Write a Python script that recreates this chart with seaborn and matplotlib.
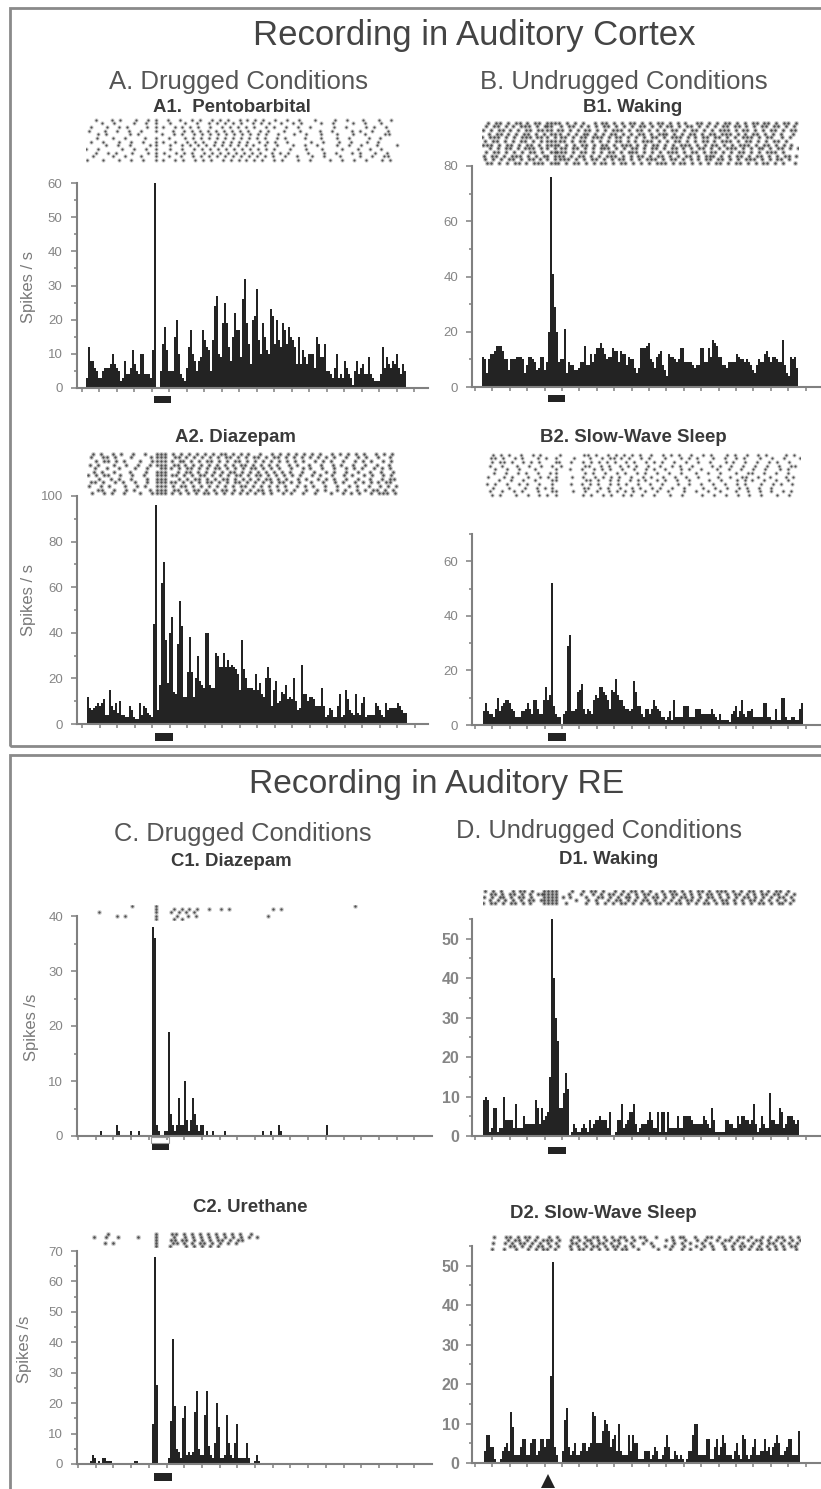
# Auditory cortex / RE recordings: rasters above peristimulus histograms
import numpy as np
import pandas as pd
import matplotlib
matplotlib.use("Agg")
import matplotlib.pyplot as plt
from matplotlib.patches import Rectangle, Polygon
import seaborn as sns

# histogram values, spikes/s per bin
a1_rates = [3,12,8,8,6,5,3,3,5,6, 6,6,7,10,7,6,5,2,3,8, 4,4,6,11,7,5,4,10,10,4,
            4,4,3,11,60,0,0,5,13,18, 11,5,5,5,15,20,10,4,3,2, 6,12,17,10,8,5,8,9,17,14,
            12,11,5,14,24,27,10,9,19,25, 19,12,8,15,22,17,17,9,26,32, 19,13,7,20,21,29,14,10,19,15,
            11,10,23,21,13,20,14,12,19,17, 13,18,15,14,12,7,15,7,11,9, 7,10,10,10,6,15,13,9,9,13,
            5,5,4,3,6,10,3,4,3,8, 6,4,3,1,5,8,4,6,7,4, 4,9,4,3,2,2,2,4,12,6, 9,7,6,8,7,10,6,4,7,5]
a2_rates = [12,7,6,7,8,9,8,9,11,4, 4,15,8,6,9,5,10,4,4,3, 3,8,6,3,2,2,9,4,8,7,
            5,4,3,44,96,6,17,62,71,37, 18,40,47,14,13,35,54,43,12,12, 23,38,23,12,20,30,19,17,16,40,
            40,17,16,16,31,30,25,25,31,25, 28,25,26,25,24,22,15,37,24,20, 16,16,16,15,22,15,18,13,12,20,
            25,20,8,15,19,9,10,14,13,17, 11,12,11,20,10,6,7,26,13,13, 10,12,12,11,8,8,8,16,8,3,
            4,7,6,3,3,8,13,3,4,15, 11,6,5,4,13,5,4,9,12,3, 4,4,4,4,9,8,6,4,3,9, 6,7,7,7,7,9,8,6,5,5]
b1_rates = [11,10,5,10,12,12,13,15,15,15, 13,10,10,6,10,10,10,11,11,11, 10,5,8,11,11,10,9,6,7,11,
            11,6,9,20,76,41,29,20,9,10, 10,21,5,9,8,8,6,6,7,9, 9,15,8,8,12,9,12,14,14,16,
            14,12,10,11,11,14,13,13,9,13, 12,12,8,11,10,10,7,5,7,14, 14,14,15,16,10,9,7,11,12,13,
            8,6,4,12,11,11,10,9,10,14, 14,9,9,9,9,8,7,8,8,14, 14,9,9,14,11,17,16,15,11,11,
            8,8,7,9,9,9,9,12,11,10, 10,9,10,9,8,6,5,8,10,9, 9,12,13,11,9,11,11,10,9,9, 17,8,5,4,11,10,11,7]
b2_rates = [5,8,5,4,4,3,6,10,5,7, 8,9,9,8,6,5,3,3,3,5, 5,6,8,6,4,9,9,6,4,4,
            9,14,9,11,52,7,4,3,3,0, 4,5,29,33,5,5,6,12,13,15, 6,4,6,5,4,9,11,10,14,14,
            12,11,9,6,13,12,17,11,9,9, 7,6,6,5,6,16,12,7,7,4, 3,6,6,4,6,9,7,6,5,3,
            3,2,3,5,2,9,3,3,3,3, 7,7,7,3,3,3,6,6,6,4, 4,4,4,4,6,4,3,2,4,2,
            2,2,2,1,4,5,7,3,5,9, 4,3,5,5,6,3,3,3,3,3, 8,8,3,3,2,2,6,2,2,10, 10,3,2,2,3,3,2,2,6,8]
c1_rates = [0,0,0,0,0,0,0,0,0,0, 0,1,0,0,0,0,0,0,0,2, 1,0,0,0,0,0,1,0,0,0,
            1,0,0,0,0,0,0,38,36,2, 1,0,0,1,1,19,4,2,1,2, 7,2,2,10,3,1,3,7,4,2,
            1,2,2,0,1,0,0,1,0,0, 0,0,0,1,0,0,0,0,0,0, 0,0,0,0,0,0,0,0,0,0,
            0,0,1,0,0,0,1,0,0,0, 2,1,0,0,0,0,0,0,0,0, 0,0,0,0,0,0,0,0,0,0,
            0,0,0,0,2,0,0,0,0,0, 0,0,0,0,0,0,0,0,0,0, 0,0,0,0,0,0,0,0,0,0, 0,0,0,0,0,0,0,0,0,0]
c2_rates = [0,0,0,0,0,0,1,3,2,0, 1,0,2,2,1,1,1,0,0,0, 0,0,0,0,0,0,0,0,1,1,
            0,0,0,0,0,0,0,13,68,26, 0,0,0,0,0,2,14,41,19,5, 4,2,15,19,3,4,3,4,17,24,
            5,3,3,16,24,6,3,2,7,20, 12,2,2,3,16,7,3,2,7,13, 2,2,2,2,7,2,0,0,1,3,
            1,0,0,0,0,0,0,0,0,0, 0,0,0,0,0,0,0,0,0,0, 0,0,0,0,0,0,0,0,0,0,
            0,0,0,0,0,0,0,0,0,0, 0,0,0,0,0,0,0,0,0,0, 0,0,0,0,0,0,0,0,0,0, 0,0,0,0,0,0,0,0,0,0]
d1_rates = [9,10,9,1,2,7,7,1,2,2, 10,4,4,4,4,2,8,2,2,2, 5,3,3,3,3,3,9,7,3,7,
            4,5,6,15,55,40,30,24,7,7, 11,16,12,0,1,3,2,1,1,2, 3,2,1,4,2,3,4,4,5,4,
            4,4,2,6,0,0,1,4,4,8, 2,3,4,6,6,8,3,1,2,3, 3,3,4,6,4,2,2,6,1,6,
            6,1,6,2,2,2,2,5,2,2, 5,5,5,5,4,3,3,3,3,3, 5,4,3,2,7,4,1,1,1,1,
            1,4,4,3,3,2,2,5,3,5, 5,4,4,3,4,8,3,1,2,5, 3,2,2,11,4,4,3,3,7,6, 2,3,5,5,5,4,3,4]
d2_rates = [3,7,7,4,4,1,0,0,1,3, 4,5,3,13,9,2,2,2,4,6, 6,2,2,5,6,6,2,3,6,6,
            4,6,6,22,51,4,2,0,0,3, 11,14,4,2,3,5,2,2,3,5, 5,3,4,5,13,12,5,5,5,8,
            11,10,8,4,6,7,3,10,3,2, 2,2,7,3,7,5,5,1,1,1, 3,3,3,1,2,4,3,1,1,2,
            4,7,4,1,1,3,2,1,2,1, 0,1,3,3,7,10,10,2,2,2, 2,6,6,1,1,4,6,2,4,7,
            5,2,2,2,1,3,5,2,1,7, 6,2,1,2,4,6,2,2,3,3, 6,3,4,2,4,5,7,5,2,2, 3,4,6,6,2,2,2,8]

# raster rows, one string per trial, * = spike
a1_raster = [
    "  *   * *   *  * " "*" "  *  *  * *  * * *  * * * *  *  *  *   *    *  *   *   *  *",
    "   *  *    *  *  " "*" "  *   *  *  * * * * *  * * *  *  * *    *  *    *  *   *   ",
    " *   *  * *    * " "*" " *  * * * *  *  * * * * *  * *  *  *  *     *  *    * *  *",
    "*   *  *  *  *   " "*" "   *  * * * * * * * * *  * *   *   *    *  *    * *  *   * ",
    "   * *     * *   " " " " *  * *  * * * * * * * * * *  *   *  *   *   *   *  *    **",
    "  *   *  *    *  " "*" "  *   * * * * * * * * * * *  * *    *   *   *  *    *  *   ",
    " *  *   *  *  *  " "*" " *  *  * * *  * * * * *  * * *  *     *  *   *  *   *  * ",
    "    *  *  *    * " "*" "  *  * * * * * * * * * *  *  *   *  *  *    *  *  *   *    *",
    "*  *     *  *  * " "*" "   *  *  * * * * * * * * * * *   *   *   *    *   *  *  * ",
    "  *  * *   *   * " "*" " *  * * *  * * * * * * * *  * * *    *   *  *   * *   *  * ",
    " *    *  *   *   " "*" "  *  *  * * * * * * * * * * *  *  *   *  *   *    *  *  **",
    "*   *   *  *  *  " "*" " *  * *  * * *  * * * * * *  * *   *  *    *  *  *  *   * * ",
]
a2_raster = [
    " * *  * *  *  *  *** * * * * * * ** * * *  *  * * * * * * *  * * * * *  * * *   ",
    "*  ** *   *    * *** ** * * * * * ** * * ** * ** * * * * * * *  *  * *  *  *    ",
    "  * ** * *   *  **** * ** * * ** * * ** * * * * * * * *  * * *  *  * * *  * *   ",
    "* *   *  *  *  * *** ** * * * * * * * ** * * * *  * *  *  *  * *  *  *  *  *    ",
    "  *  *  *   *  *  ** * * ** * * ** * * * ** * * *  *  * *  *  *  * * *  * * *   ",
    " * *  *   *   *  ***  * ** * * * * ** * * * * * * *  *  *  * *  *  *  *  *  *   ",
    "* * **  *  *  *  *** ** * * ** * * * ** * ** * * * * *  * *  *  * *  * *  * *   ",
    "  *  * *  *   *  ***  * * ** * * ** * * * * ** * *  * *  * * *  *  *  *  * **   ",
    " ** *  * *  *  * *** ** * * * ** * * ** * * * * ** * *  *  *  * *  * * * * **   ",
    "*  * *   *  * *  *** * ** * * * * * * ** * * * * *  * * *  *  *  * *  *  * * *  ",
    "  **  *  * *   * *** ** * ** * * ** * * * ** * * * *  *  * *  * *  * * ** * *   ",
    " *  * *  *   *  **** * * * * ** * * * * * * * *  * *  *  *   *  * * *  * *** *  ",
]
b1_raster = [
    " * ** * ** * ** **** * * *  * ** * * ** * * ** * * *  ** * * ** * * ** ** * ** *",
    "* ** * * *** * *** * ** * * * ** * * * ** * * ** * ** * * * ** ** * * ** ** * * ",
    "* * ** * * ** **** ** * * ** * * *** * ** * * * ** * ** * * *** * ** * * ** * **",
    " * ** * * ** * * *** * * ** * * ** * * ** * *** * * ** * ** *** * * ** * * *  * ",
    "* *** * * *** *** * ** * ** *** * ** * * * ** * *** * * ** ** * * *** * **  * * ",
    "* ** * * ** * * ***** * ** * * * ** * * *** * * ** * * ** * *** * ** * * ** *   ",
    "*** * ** * ** * **** * * ** * ** * *** * * ** * * *** * * ** * * *** * ** * * * ",
    " * * ** * *** * * *** ** * * *** * * ** * ** * ** * * ** * * *** * * ** * ** * *",
    " * ** * * * ** * ***** * ** * * ** * *** * * * *** * ** * ** * * ** * * *** *   ",
    "* ** * *** * * ** *** * ** * * *** * * ** * ** * * ** * *** * * ** * ** * * ** *",
    "* * * ** * ** * * **** * * ** * * ** * * *** * ** * * * ** ** * * *** * * ** *  ",
    " ** * * ** * *** *** * ** * * ** * ** * * * *** * ** * * * ** * ** * * ** * *  *",
]
b2_raster = [
    "  * * *  *  * *    *     ** *  * * * * *  *  * * *  *  * *   * *  *  * *    * * ",
    " ** *  * *   * *  *   *   *  * ** * *  * *   *   * * *   *  *  * *   *  *  *   *",
    "  * ** *  * * *   **  *  * * * * *  * *  * * *  *  *  *  *   * *  *  *  * *  * ",
    " *  *   *  *  *  * *     **  * *  * * *  *  *  * *  *    * *  *  *  *  *  *  **",
    "   *  *  *   *    *   *  *  * * *  *  *  * *  *   * *  *   *  *  *  *  *   * * ",
    "  *  *  * *  *  * *      * *  *  * *  * *  *  *  *   *  *  *   *  **  *  *  *  ",
    " *   * *   *  * * *   *  *  * * * *  *  * *  *  *  *  *    *  *  **  *  *   * *",
    "   *  *  *  *    **      ** *  * *  * * *  * *  *  *    *  *   * * *  *  *  *  ",
    " * *  *  * *  *  *    *  * * *  * * *  *  *  *   *  *  *  *  *  * *   *  * *  *",
    "  *   *   *  * * *       **  * *  *  * *  * *  *  *    *  *  *  * *  *  *       ",
    " *  *  * *   *   **   *  *  *  * * * *  *  *  *   *  *  *  *   *  *  *  *  * * ",
    "  * *   *  *  * * *      * *  * *  * *  *  *   *  *    *  *  *  *  *  *   *  * ",
]
c1_raster = [
    "           *     *                                                 *            ",
    "                 *   * * * *  *  * *          * *                               ",
    "   *             *   * * * *                                                    ",
    "       * *       *    *  * *                 *                                  ",
    "                 *    * *                                                       ",
]
c2_raster = [
    "     *           *   ** * * * * * * * *  *                                      ",
    " *  *  *    *    *   *  * * * * * * * * * *                                     ",
    "                 *   ** ** * * * ** * **                                        ",
    "    * *          *   ** * * ** * * * *                                          ",
    "                 *   *   * * * * *                                              ",
]
d1_raster = [
    "* * *  * ** *  ****   *  * ** *  * * ** * *  * ** * * ** * *** * * ** * * ** *  ",
    " ** * ** * * ******  *  *  * * ** * * * ** * * ** * * * ** * * ** * * ** ** * * ",
    "* * ** * ** *  **** * *   *  ** * * ** * * ** * * ** * * ** * * * ** * * * ** * ",
    " * * * * * ** *****    *  * *  * ** * * ** * * * * ** * * * ** * * ** * * * * * ",
    "* ** * ** * *  ****  *    *  * * * ** * * * ** * ** * * ** * ** * * * ** * ** * ",
]
d2_raster = [
    "  *  ** * ** *  * *   ** * ** * * ** * **  *   * **  *  ** *  * ** *  * * ** * *",
    "     * ** * * *** *  * * ** * * ** * *  *    * *  *  * *  * ** *  * ** * * * * *",
    "  *  * * ** * * * *   ** * * ** * *  *  * *     * * *  * *  *  * *  * * ** * * *",
    "      ** * * ** * *  * * * ** * ** * *    *  * *  *  * * *  * * ** * * * * * ** ",
    "  *  *  *  * * ** *   * ** * * * * **  *    *  *  * *  *  *  * * * * ** * * *  *",
]

W, H = 821, 1489
DARK = "#232323"
AXIS = "#808080"
TICK_TXT = "#858585"
# small sideways nudge per trial so the raster cells do not read as a lattice
ROW_NUDGE = [0.0, 0.45, -0.3, 0.2, -0.45, 0.35, -0.15, 0.5, -0.4, 0.1, 0.3, -0.25]

sns.set_theme(style="white")
plt.rcParams["font.family"] = ["Liberation Sans", "DejaVu Sans"]

fig = plt.figure(figsize=(W / 100, H / 100), dpi=100)


def box_axes(left, top, right, bottom):
    ax = fig.add_axes([left / W, 1 - bottom / H, (right - left) / W, (bottom - top) / H])
    ax.patch.set_alpha(0)
    return ax


def px_rect(x0, y0, x1, y1, **kw):
    fig.add_artist(Rectangle((x0 / W, 1 - y1 / H), (x1 - x0) / W, (y1 - y0) / H,
                             transform=fig.transFigure, **kw))


def px_text(x, y, s, **kw):
    fig.text(x / W, 1 - y / H, s, ha="center", va="center", **kw)


def hist_panel(rates, bar_x0, spine_x, right_x, y0, ytop, ymax, major, minor, tick_x0, tick_dx,
               label_size=9.5, label_weight="normal", pad=6):
    ax = box_axes(spine_x, ytop, right_x, y0)
    df = pd.DataFrame({"bin": np.arange(len(rates)), "rate": rates})
    sns.barplot(data=df, x="bin", y="rate", color=DARK, saturation=1, width=1.0,
                linewidth=0, errorbar=None, ax=ax)
    ax.set_xlim((spine_x - bar_x0) / 2 - 0.5, (right_x - bar_x0) / 2 - 0.5)
    ax.set_ylim(0, ymax)
    ax.set_xlabel("")
    ax.set_ylabel("")
    xt = [(px - bar_x0) / 2 - 0.5 for px in np.arange(tick_x0, right_x, tick_dx)]
    ax.set_xticks(xt)
    ax.set_xticklabels([])
    ax.set_yticks(np.arange(0, ymax + 0.1, major))
    ax.set_yticks(np.arange(0, ymax + 0.1, minor), minor=True)
    ax.tick_params(axis="y", which="major", length=4, width=1.1, color=AXIS, left=True, pad=pad,
                   labelsize=label_size, labelcolor=TICK_TXT)
    ax.tick_params(axis="y", which="minor", length=2.5, width=1.1, color=AXIS, left=True)
    ax.tick_params(axis="x", length=3, width=1.1, color=AXIS, bottom=True)
    for lab in ax.get_yticklabels():
        lab.set_fontweight(label_weight)
    sns.despine(ax=ax, top=True, right=True)
    for side in ("left", "bottom"):
        ax.spines[side].set_color(AXIS)
        ax.spines[side].set_linewidth(1.5)
    return ax


def raster_panel(rows, left, top, right, bottom, fixed_cols=(), size=2.4):
    ax = box_axes(left, top, right, bottom)
    cols, trials = [], []
    for i, row in enumerate(rows):
        for j, ch in enumerate(row):
            if ch == "*":
                nudge = 0 if j in fixed_cols else ROW_NUDGE[i % len(ROW_NUDGE)]
                cols.append(j + nudge)
                trials.append(i)
    # soft halo under a dark core, the printed rasters are fuzzy
    sns.scatterplot(x=cols, y=trials, s=size * 4, color="#777777", alpha=0.35, linewidth=0,
                    marker="o", legend=False, ax=ax)
    sns.scatterplot(x=cols, y=trials, s=size, color="#333333", alpha=0.8, linewidth=0,
                    marker="o", legend=False, ax=ax)
    ax.set_xlim(-0.5, 79.5)
    ax.set_ylim(len(rows) - 0.5, -0.5)
    ax.axis("off")


# frames
px_rect(10, 7.5, 822, 745.5, fill=False, edgecolor="#8a8a8a", linewidth=2)
px_rect(10, 755, 822, 1495, fill=False, edgecolor="#8a8a8a", linewidth=2)

# headings
px_text(474, 36, "Recording in Auditory Cortex", fontsize=25, color="#444444")
px_text(238, 82, "A. Drugged Conditions", fontsize=18.5, color="#555555")
px_text(624, 82, "B. Undrugged Conditions", fontsize=18.5, color="#555555")
px_text(437, 784, "Recording in Auditory RE", fontsize=24.2, color="#444444")
px_text(243, 834, "C. Drugged Conditions", fontsize=18.3, color="#555555")
px_text(599, 831, "D. Undrugged Conditions", fontsize=18.3, color="#555555")

title_kw = dict(fontsize=13.4, fontweight="bold", color="#3a3a3a")
px_text(232, 108, "A1.  Pentobarbital", **title_kw)
px_text(633, 108, "B1. Waking", **title_kw)
px_text(235, 438, "A2. Diazepam", **title_kw)
px_text(633, 438, "B2. Slow-Wave Sleep", **title_kw)
px_text(231, 861, "C1. Diazepam", **title_kw)
px_text(609, 859, "D1. Waking", **title_kw)
px_text(250, 1207, "C2. Urethane", **title_kw)
px_text(603, 1214, "D2. Slow-Wave Sleep", **title_kw)

# histograms
hist_panel(a1_rates, 86, 76.5, 428, 388, 183, 60, 10, 5, 81.7, 17.5)
hist_panel(a2_rates, 87, 77, 428, 724, 496, 100, 20, 10, 82, 17.5)
hist_panel(b1_rates, 482, 472, 821, 387, 166, 80, 20, 10, 475, 17.4)
hist_panel(b2_rates, 483, 472, 821, 725, 534, 70, 20, 10, 475, 17.4)
hist_panel(c1_rates, 78, 77, 432, 1136, 916, 40, 10, 5, 78, 17.7)
hist_panel(d1_rates, 483, 472, 821, 1136, 919, 55, 10, 5, 475, 17.4, 11.5, "bold", 5)
hist_panel(c2_rates, 78, 77, 432, 1464, 1251, 70, 10, 5, 78, 17.7)
hist_panel(d2_rates, 484, 472, 821, 1463, 1246, 55, 10, 5, 475, 17.4, 11.5, "bold", 5)

# rasters
raster_panel(a1_raster, 86, 118, 405, 162, fixed_cols=(17,))
raster_panel(a2_raster, 87, 452, 406, 495, fixed_cols=(17, 18, 19), size=3.2)
raster_panel(b1_raster, 482, 121, 798, 165, fixed_cols=(16, 17, 18), size=3.4)
raster_panel(b2_raster, 483, 453, 800, 497, fixed_cols=(17, 18))
raster_panel(c1_raster, 86, 905, 405, 920, fixed_cols=(17,), size=3)
raster_panel(c2_raster, 86, 1232, 405, 1247, fixed_cols=(17,), size=3.5)
raster_panel(d1_raster, 483, 890, 798, 905, fixed_cols=(15, 16, 17, 18), size=3.5)
raster_panel(d2_raster, 484, 1235, 800, 1250, fixed_cols=(17,), size=3.5)

# y labels
for x, y, s in [(29, 287, "Spikes / s"), (28, 600, "Spikes / s"),
                (31, 1027, "Spikes /s"), (24, 1349, "Spikes /s")]:
    px_text(x, y, s, fontsize=12, rotation=90, color="#7a7a7a")

# stimulus bars
for x0, y0, x1, y1 in [(153.5, 396, 171, 403), (155, 733, 172.5, 741), (548, 395, 565, 402),
                       (548, 733, 566, 741), (152, 1143, 169, 1150), (548, 1147, 566, 1154),
                       (154, 1473, 172, 1481)]:
    px_rect(x0, y0, x1, y1, color=DARK, linewidth=0)
px_rect(150.5, 1137, 168.5, 1143, fill=False, edgecolor="#999999", linewidth=0.8)

# arrow under D2
fig.add_artist(Polygon([[541 / W, 1 - 1488 / H], [555 / W, 1 - 1488 / H], [548 / W, 1 - 1474 / H]],
                       closed=True, transform=fig.transFigure, color=DARK, linewidth=0))

fig.savefig("out.png", dpi=100)
